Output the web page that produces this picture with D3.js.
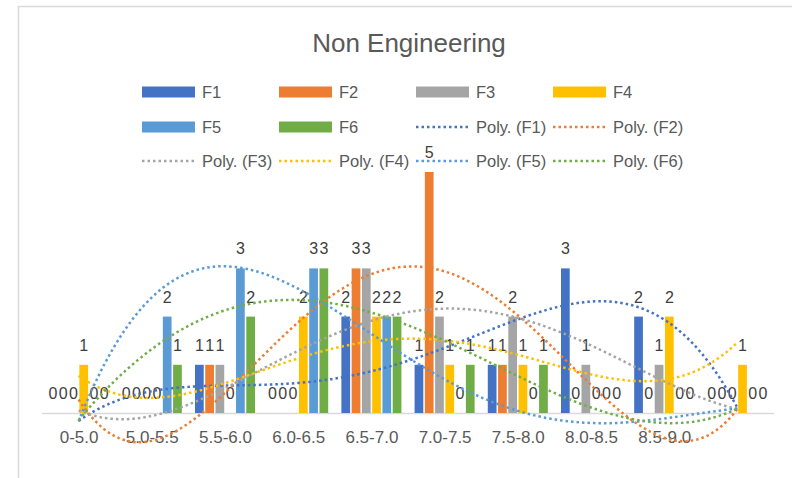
<!DOCTYPE html>
<html><head><meta charset="utf-8">
<script src="https://cdn.jsdelivr.net/npm/d3@7"></script>
<style>
html,body{margin:0;padding:0;background:#fff;}
svg{display:block;font-family:"Liberation Sans",Arial,sans-serif;}
</style></head>
<body>
<svg id="chart" width="792" height="478"></svg>
<script>
const title = "Non Engineering";
const categories = ["0-5.0","5.0-5.5","5.5-6.0","6.0-6.5","6.5-7.0","7.0-7.5","7.5-8.0","8.0-8.5","8.5-9.0",""];
const seriesNames = ["F1","F2","F3","F4","F5","F6"];
const F1 = [0,0,1,0,2,1,1,3,2,0];
const F2 = [0,0,1,0,3,5,1,0,0,0];
const F3 = [0,0,1,0,3,2,2,1,1,0];
const F4 = [1,0,0,2,2,1,1,0,2,1];
const F5 = [0,2,3,3,2,0,0,0,0,0];
const F6 = [0,1,2,3,2,1,1,0,0,0];
const colors = ["#4472C4","#ED7D31","#A5A5A5","#FFC000","#5B9BD5","#70AD47"];
const polyOrder = 4;

const seriesValues = [F1,F2,F3,F4,F5,F6];
const svg = d3.select("#chart");

// chart border
svg.append("path").attr("d","M18.5,478 L18.5,6.5 L792,6.5")
  .attr("fill","none").attr("stroke","#d9d9d9").attr("stroke-width",1.5);

// title
svg.append("text").attr("x",409).attr("y",52).attr("text-anchor","middle")
  .attr("font-size",26).attr("fill","#595959").text(title);

const x0 = d3.scaleBand().domain(d3.range(categories.length)).range([42,774])
  .paddingInner(0.18).paddingOuter(0.09);
const x1 = d3.scaleBand().domain(d3.range(seriesNames.length)).range([0,x0.bandwidth()])
  .paddingInner(0.15);
const y = d3.scaleLinear().domain([0,5]).range([413,172]);

// axis line
svg.append("line").attr("x1",42).attr("x2",774).attr("y1",413.5).attr("y2",413.5)
  .attr("stroke","#d9d9d9").attr("stroke-width",1.5);

// x axis labels
const xAxis = d3.axisBottom(d3.scalePoint().domain(categories.map((c,i)=>i))
  .range([x0(0)+x0.bandwidth()/2, x0(categories.length-1)+x0.bandwidth()/2]))
  .tickSize(0).tickFormat(i=>categories[i]);
const gx = svg.append("g").attr("transform","translate(0,413)").call(xAxis);
gx.select(".domain").remove();
gx.selectAll("text").attr("font-size",17).attr("fill","#595959")
  .attr("font-family","Liberation Sans,Arial,sans-serif").attr("dy",0).attr("y",30);

// bars
const groups = svg.append("g").selectAll("g").data(categories).join("g")
  .attr("transform",(d,i)=>`translate(${x0(i)},0)`);
groups.selectAll("rect").data((d,i)=>seriesValues.map((s,k)=>({k,v:s[i]}))).join("rect")
  .attr("x",d=>x1(d.k)).attr("width",x1.bandwidth())
  .attr("y",d=>y(d.v)).attr("height",d=>y(0)-y(d.v))
  .attr("fill",d=>colors[d.k]);

// polynomial trendlines (least squares)
function polyfit(xs, ys, order){
  const n = order+1;
  const A = Array.from({length:n},()=>new Array(n+1).fill(0));
  for(let r=0;r<n;r++){
    for(let c=0;c<n;c++){
      A[r][c] = d3.sum(xs, xv=>Math.pow(xv, r+c));
    }
    A[r][n] = d3.sum(xs.map((xv,i)=>Math.pow(xv,r)*ys[i]));
  }
  for(let i=0;i<n;i++){
    let p=i; for(let r=i+1;r<n;r++) if(Math.abs(A[r][i])>Math.abs(A[p][i])) p=r;
    [A[i],A[p]]=[A[p],A[i]];
    for(let r=0;r<n;r++){ if(r===i) continue; const f=A[r][i]/A[i][i];
      for(let c=i;c<=n;c++) A[r][c]-=f*A[i][c]; }
  }
  return A.map((row,i)=>row[n]/row[i]);
}
const xc = d3.range(1,categories.length+1);
const xMid = 5.5;
const catX = t => x0(0)+x0.bandwidth()/2 + (t-1)*x0.step();
const line = d3.line().x(d=>catX(d[0])).y(d=>y(d[1])).curve(d3.curveLinear);
const trendG = svg.append("g");
seriesValues.forEach((s,k)=>{
  const coef = polyfit(xc.map(v=>v-xMid), s, polyOrder);
  const pts = d3.range(1,categories.length+0.001,0.05).map(t=>{
    const u=t-xMid; let v=0; coef.forEach((c,i)=>v+=c*Math.pow(u,i)); return [t,v];
  });
  trendG.append("path").datum(pts).attr("d",line).attr("fill","none")
    .attr("stroke",colors[k]).attr("stroke-width",2.5).attr("stroke-dasharray","2.5,3");
});

// data labels
groups.selectAll("text.lbl").data((d,i)=>seriesValues.map((s,k)=>({k,v:s[i]}))).join("text")
  .attr("class","lbl").attr("x",d=>x1(d.k)+x1.bandwidth()/2).attr("y",d=>y(d.v)-14)
  .attr("text-anchor","middle").attr("font-size",16).attr("fill","#404040")
  .text(d=>d.v);

// legend
const legendItems = [
  {label:"F1",k:0,type:"bar",col:0,row:0},{label:"F2",k:1,type:"bar",col:1,row:0},
  {label:"F3",k:2,type:"bar",col:2,row:0},{label:"F4",k:3,type:"bar",col:3,row:0},
  {label:"F5",k:4,type:"bar",col:0,row:1},{label:"F6",k:5,type:"bar",col:1,row:1},
  {label:"Poly. (F1)",k:0,type:"line",col:2,row:1},{label:"Poly. (F2)",k:1,type:"line",col:3,row:1},
  {label:"Poly. (F3)",k:2,type:"line",col:0,row:2},{label:"Poly. (F4)",k:3,type:"line",col:1,row:2},
  {label:"Poly. (F5)",k:4,type:"line",col:2,row:2},{label:"Poly. (F6)",k:5,type:"line",col:3,row:2}
];
const colX = [142,279,416,553], rowY = [92,127,161];
const lg = svg.append("g").selectAll("g").data(legendItems).join("g")
  .attr("transform",d=>`translate(${colX[d.col]},${rowY[d.row]})`);
lg.filter(d=>d.type==="bar").append("rect").attr("x",0).attr("y",-5.5).attr("width",53).attr("height",11)
  .attr("fill",d=>colors[d.k]);
lg.filter(d=>d.type==="line").append("line").attr("x1",0).attr("x2",53).attr("y1",0).attr("y2",0)
  .attr("stroke",d=>colors[d.k]).attr("stroke-width",2.5).attr("stroke-dasharray","2.5,3");
lg.append("text").attr("x",60).attr("y",6).attr("font-size",16.5).attr("fill","#595959").text(d=>d.label);
</script>
</body></html>
